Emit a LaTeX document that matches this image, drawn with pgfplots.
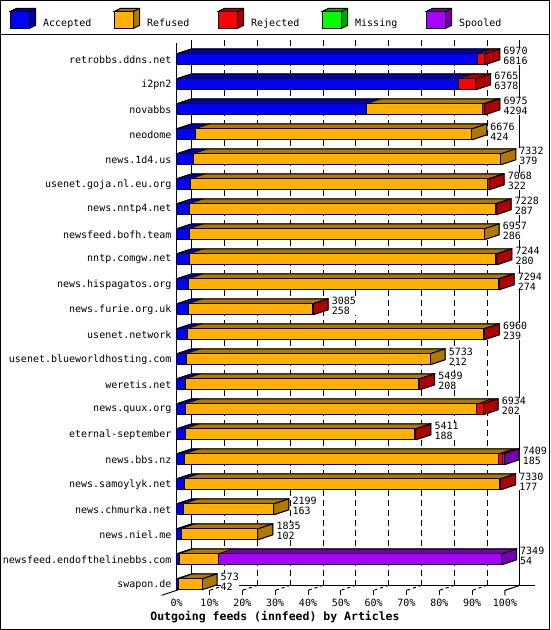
\documentclass[border=0pt]{standalone}
\usepackage{pgfplots}
\pgfplotsset{compat=1.18}
\usepackage{pgfplotstable}
\usepackage{fontspec}
\setmainfont{DejaVu Sans Mono}
\setmonofont{DejaVu Sans Mono}
\newcommand\lab{\fontsize{10}{10}\selectfont}
\definecolor{accF}{HTML}{0000FF}
\definecolor{accD}{HTML}{0000B0}
\definecolor{refF}{HTML}{FFB000}
\definecolor{refD}{HTML}{B07800}
\definecolor{rejF}{HTML}{FF0000}
\definecolor{rejD}{HTML}{B00000}
\definecolor{misF}{HTML}{00FF00}
\definecolor{misD}{HTML}{00A800}
\definecolor{spoF}{HTML}{AA00FF}
\definecolor{spoD}{HTML}{7400B0}

\pgfplotstableread{
y a r j m s t
0 6816 0 154 0 0 6970
1 6378 0 387 0 0 6765
2 4294 2621 60 0 0 6975
3 424 6252 0 0 0 6676
4 379 6953 0 0 0 7332
5 322 6716 30 0 0 7068
6 287 6916 25 0 0 7228
7 286 6671 0 0 0 6957
8 280 6944 20 0 0 7244
9 274 7000 20 0 0 7294
10 258 2807 20 0 0 3085
11 239 6701 20 0 0 6960
12 212 5521 0 0 0 5733
13 208 5271 20 0 0 5499
14 202 6589 143 0 0 6934
15 188 5203 20 0 0 5411
16 185 7089 90 0 45 7409
17 177 7133 20 0 0 7330
18 163 2036 0 0 0 2199
19 102 1733 0 0 0 1835
20 54 887 0 0 6408 7349
21 42 531 0 0 0 573
}\feeds

\pgfdeclareplotmark{nothing}{}
\def\kk{0.044198}
\newcommand\topface[1]{%
  \ifdim\vw pt>0.01pt
    \pgfmathsetmacro\wd{\vw*\kk}%
    \fill[fill=#1] ({-\wd*1pt},5.5pt) -- (0pt,5.5pt) -- (15pt,10.5pt) -- ({(15-\wd)*1pt},10.5pt) -- cycle;
  \fi}
\newcommand\sideface{%
  \def\sidecol{accD}%
  \ifdim\vr pt>0.01pt \def\sidecol{refD}\fi
  \ifdim\vj pt>0.01pt \def\sidecol{rejD}\fi
  \ifdim\vm pt>0.01pt \def\sidecol{misD}\fi
  \ifdim\vs pt>0.01pt \def\sidecol{spoD}\fi
  \pgfmathsetmacro\TT{\vt*\kk}%
  \pgfmathtruncatemacro\labT{\vt}%
  \pgfmathtruncatemacro\labA{\va}%
  \fill[fill=\sidecol] (0pt,5.5pt) -- (15pt,10.5pt) -- (15pt,-0.5pt) -- (0pt,-5.5pt) -- cycle;
  \draw[line width=1pt, line join=miter] ({-\TT*1pt},5.5pt) -- ({(15-\TT)*1pt},10.5pt) -- (15pt,10.5pt) -- (15pt,-0.5pt) -- (0pt,-5.5pt);
  \draw[line width=1pt] (0pt,5.5pt) -- (15pt,10.5pt);
  \node[anchor=west, align=left, inner sep=0pt, fill=white, font=\lab] at (18.5pt,3pt) {\labT\\\labA};
}
\newcommand\legcube[2]{%
  \fill[fill=#2,draw=black,line width=1pt] (0pt,11.8pt) -- (6pt,14.8pt) -- (25pt,14.8pt) -- (25pt,-2.2pt) -- (19pt,-5.2pt) -- (19pt,11.8pt) -- cycle;
  \draw[line width=1pt] (19pt,11.8pt) -- (25pt,14.8pt);
  \filldraw[fill=#1,draw=black,line width=1pt] (0pt,-5.2pt) rectangle (19pt,11.8pt);
}

\pgfplotsset{
  common/.style={scale only axis, width=328.3pt, height=562.5pt,
    xmin=0, xmax=7428, ymin=-1, ymax=21.5, y dir=reverse,
    enlargelimits=false, clip=false, at={(176.7pt,33.2pt)}, anchor=south west},
  deco/.style={scatter, only marks, mark=nothing, point meta=y,
    scatter/@post marker code/.code={}},
}

\begin{document}
\begin{tikzpicture}
\path[use as bounding box] (0,0) rectangle (550pt,630pt);
\draw[line width=1pt] (0.5pt,0.5pt) rectangle (549.5pt,629.5pt);
\draw[line width=1pt] (0pt,595pt) -- (550pt,595pt);

% back walls, floor, 3D faces and value labels
\begin{axis}[common, hide axis]
  \draw[line width=1pt] ([xshift=15pt]axis cs:0,-0.772) -- ([xshift=15pt]axis cs:0,21.04);
  \draw[line width=1pt] ([xshift=15pt]axis cs:7428,-0.772) -- ([xshift=15pt]axis cs:7428,21.04);
  \pgfplotsinvokeforeach{742.8,1485.6,2228.4,2971.2,3714,4456.8,5199.6,5942.4,6685.2}{
    \draw[line width=1pt, dash pattern=on 6pt off 4pt] ([xshift=15pt]axis cs:#1,-0.772) -- ([xshift=15pt]axis cs:#1,21.04);
    \draw[line width=1pt, dash pattern=on 3pt off 3pt] ([xshift=15pt]axis cs:#1,21.04) -- (axis cs:#1,21.24);
    \draw[line width=1pt] (axis cs:#1,21.24) -- ([yshift=-5pt]axis cs:#1,21.24);
  }
  \draw[line width=1pt] ([xshift=15pt]axis cs:0,21.04) -- ([xshift=30pt]axis cs:7428,21.04);
  \draw[line width=1pt] ([xshift=15pt]axis cs:7428,21.04) -- (axis cs:7428,21.24) -- ([yshift=-5pt]axis cs:7428,21.24);
  \draw[line width=1pt] ([xshift=15pt]axis cs:0,21.04) -- ([xshift=-15pt,yshift=-5pt]axis cs:0,21.24);
  \draw[line width=1pt] (axis cs:0,-0.64) -- (axis cs:0,21.24);

  \addplot[deco, visualization depends on={\thisrow{a} \as \vw},
    scatter/@pre marker code/.code={\topface{accD}}]
    table[x=a, y=y] {\feeds};
  \addplot[deco, visualization depends on={\thisrow{r} \as \vw},
    scatter/@pre marker code/.code={\topface{refD}}]
    table[x expr=\thisrow{a}+\thisrow{r}, y=y] {\feeds};
  \addplot[deco, visualization depends on={\thisrow{j} \as \vw},
    scatter/@pre marker code/.code={\topface{rejD}}]
    table[x expr=\thisrow{a}+\thisrow{r}+\thisrow{j}, y=y] {\feeds};
  \addplot[deco, visualization depends on={\thisrow{m} \as \vw},
    scatter/@pre marker code/.code={\topface{misD}}]
    table[x expr=\thisrow{a}+\thisrow{r}+\thisrow{j}+\thisrow{m}, y=y] {\feeds};
  \addplot[deco, visualization depends on={\thisrow{s} \as \vw},
    scatter/@pre marker code/.code={\topface{spoD}}]
    table[x=t, y=y] {\feeds};
  \addplot[deco,
    visualization depends on={\thisrow{a} \as \va},
    visualization depends on={\thisrow{r} \as \vr},
    visualization depends on={\thisrow{j} \as \vj},
    visualization depends on={\thisrow{m} \as \vm},
    visualization depends on={\thisrow{s} \as \vs},
    visualization depends on={\thisrow{t} \as \vt},
    scatter/@pre marker code/.code={\sideface}]
    table[x=t, y=y] {\feeds};
\end{axis}

% front faces
\begin{axis}[common, xbar stacked, bar width=11pt,
  axis line style={draw=none}, tick style={draw=none}, major tick length=0pt,
  ytick={0,...,21},
  yticklabels={retrobbs.ddns.net, i2pn2, novabbs, neodome, news.1d4.us,
    usenet.goja.nl.eu.org, news.nntp4.net, newsfeed.bofh.team, nntp.comgw.net,
    news.hispagatos.org, news.furie.org.uk, usenet.network,
    usenet.blueworldhosting.com, weretis.net, news.quux.org, eternal-september,
    news.bbs.nz, news.samoylyk.net, news.chmurka.net, news.niel.me,
    newsfeed.endofthelinebbs.com, swapon.de},
  yticklabel style={font=\lab, inner sep=0pt, xshift=-5pt},
  xtick={0,742.8,1485.6,2228.4,2971.2,3714,4456.8,5199.6,5942.4,6685.2,7428},
  xticklabels={0\%,10\%,20\%,30\%,40\%,50\%,60\%,70\%,80\%,90\%,100\%},
  xticklabel style={font=\lab, inner sep=0pt, anchor=north, yshift=-2pt},
  xlabel={Outgoing feeds (innfeed) by Articles},
  xlabel style={at={(axis description cs:0.2994,-0.0354)}, anchor=center,
    font=\bfseries\fontsize{11.5}{12}\selectfont, inner sep=0pt},
  legend columns=5,
  legend style={at={(-0.5078,1.0285)}, anchor=west, draw=none, fill=none,
    inner sep=0pt, font=\lab, nodes={inner sep=0pt},
    /tikz/every odd column/.append style={column sep=7pt}},
]
  \addplot[fill=accF, draw=black, line width=1pt,
    legend image code/.code={\legcube{accF}{accD}}] table[x=a, y=y] {\feeds};
  \addplot[fill=refF, draw=black, line width=1pt,
    legend image code/.code={\legcube{refF}{refD}}] table[x=r, y=y] {\feeds};
  \addplot[fill=rejF, draw=black, line width=1pt,
    legend image code/.code={\legcube{rejF}{rejD}}] table[x=j, y=y] {\feeds};
  \addplot[fill=misF, draw=black, line width=1pt,
    legend image code/.code={\legcube{misF}{misD}}] table[x=m, y=y] {\feeds};
  \addplot[fill=spoF, draw=black, line width=1pt,
    legend image code/.code={\legcube{spoF}{spoD}}] table[x=s, y=y] {\feeds};
  \legend{\makebox[71pt][l]{Accepted},\makebox[71pt][l]{Refused},
    \makebox[71pt][l]{Rejected},\makebox[71pt][l]{Missing},\makebox[71pt][l]{Spooled}}
\end{axis}
\end{tikzpicture}
\end{document}
